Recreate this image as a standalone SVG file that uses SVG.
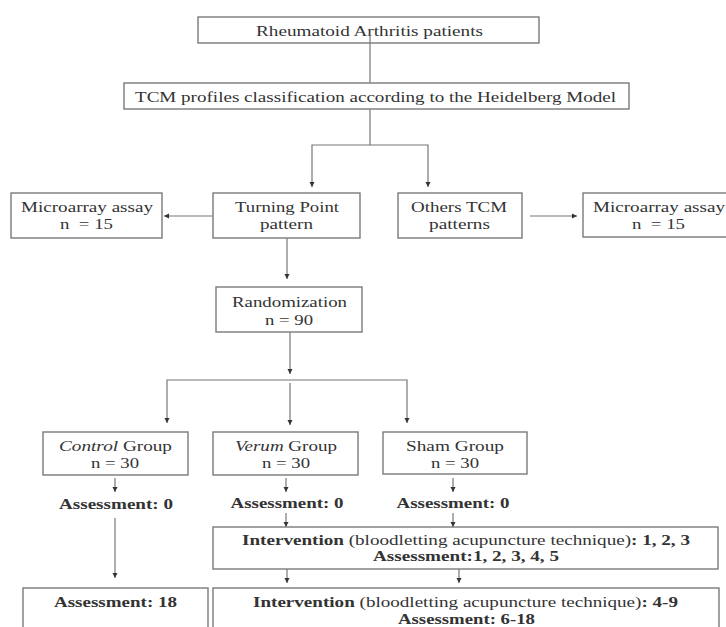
<svg xmlns="http://www.w3.org/2000/svg" width="726" height="627" viewBox="0 0 726 627">
  <style>
    .box { fill: #ffffff; stroke: #7a7a7a; stroke-width: 1.4; }
    .ln { fill: none; stroke: #777777; stroke-width: 1.2; }
    .arr { fill: none; stroke: #777777; stroke-width: 1.2; marker-end: url(#tip); }
    text { font-family: "Liberation Serif", "Times New Roman", serif; font-size: 15px; fill: #333333; }
    .c { text-anchor: middle; }
    .b { font-weight: bold; }
    .i { font-style: italic; }
  </style>
  <defs>
    <marker id="tip" markerUnits="userSpaceOnUse" markerWidth="6" markerHeight="6" refX="5" refY="3" orient="auto">
      <path d="M0,0.5 L5,3 L0,5.5 z" fill="#333333"/>
    </marker>
  </defs>

  <rect width="726" height="627" fill="#ffffff"/>

  <!-- connectors -->
  <g id="connectors">
    <line class="ln" x1="370" y1="35" x2="370" y2="83"/>
    <polyline class="ln" points="370,109 370,145"/>
    <polyline class="arr" points="370,145 312,145 312,187"/>
    <polyline class="arr" points="370,145 428,145 428,187"/>
    <line class="arr" x1="213" y1="216" x2="164" y2="216"/>
    <line class="arr" x1="530" y1="216" x2="577" y2="216"/>
    <line class="arr" x1="287" y1="238" x2="287" y2="279"/>
    <line class="arr" x1="290" y1="332" x2="290" y2="374"/>
    <polyline class="arr" points="290,380 167,380 167,423"/>
    <polyline class="arr" points="290,380 407,380 407,423"/>
    <line class="arr" x1="290" y1="383" x2="290" y2="425"/>
    <line class="arr" x1="115" y1="478" x2="115" y2="492"/>
    <line class="arr" x1="286" y1="478" x2="286" y2="492"/>
    <line class="arr" x1="453" y1="478" x2="453" y2="492"/>
    <line class="arr" x1="115" y1="518" x2="115" y2="578"/>
    <line class="arr" x1="286" y1="513" x2="286" y2="527"/>
    <line class="arr" x1="453" y1="513" x2="453" y2="527"/>
    <line class="arr" x1="287" y1="569" x2="287" y2="583"/>
    <line class="arr" x1="459" y1="569" x2="459" y2="583"/>
  </g>

  <g id="ra-patients">
    <rect class="box" x="198" y="17" width="341" height="26"/>
    <text class="c" x="369.5" y="36" textLength="227" lengthAdjust="spacingAndGlyphs">Rheumatoid Arthritis patients</text>
  </g>
  <line class="ln" x1="370" y1="35" x2="370" y2="43"/>

  <g id="tcm-classification">
    <rect class="box" x="124" y="83" width="505" height="26"/>
    <text class="c" x="375.5" y="102" textLength="481" lengthAdjust="spacingAndGlyphs">TCM profiles classification according to the Heidelberg Model</text>
  </g>

  <g id="microarray-left">
    <rect class="box" x="11" y="193" width="151" height="45"/>
    <text class="c" x="87" y="212" textLength="132" lengthAdjust="spacingAndGlyphs">Microarray assay</text>
    <text class="c" x="86.5" y="229" textLength="53" lengthAdjust="spacingAndGlyphs" xml:space="preserve">n  = 15</text>
  </g>

  <g id="turning-point">
    <rect class="box" x="213" y="193" width="147" height="45"/>
    <text class="c" x="287" y="212" textLength="104" lengthAdjust="spacingAndGlyphs">Turning Point</text>
    <text class="c" x="286.5" y="229" textLength="53" lengthAdjust="spacingAndGlyphs">pattern</text>
  </g>

  <g id="others-tcm">
    <rect class="box" x="398" y="193" width="124" height="45"/>
    <text class="c" x="459" y="212" textLength="96" lengthAdjust="spacingAndGlyphs">Others TCM</text>
    <text class="c" x="459.5" y="229" textLength="61" lengthAdjust="spacingAndGlyphs">patterns</text>
  </g>

  <g id="microarray-right">
    <rect class="box" x="583" y="193" width="151" height="44"/>
    <text class="c" x="659" y="212" textLength="132" lengthAdjust="spacingAndGlyphs">Microarray assay</text>
    <text class="c" x="658.5" y="229" textLength="53" lengthAdjust="spacingAndGlyphs" xml:space="preserve">n  = 15</text>
  </g>

  <g id="randomization">
    <rect class="box" x="216" y="287" width="146" height="45"/>
    <text class="c" x="289.5" y="307" textLength="115" lengthAdjust="spacingAndGlyphs">Randomization</text>
    <text class="c" x="289" y="325" textLength="48" lengthAdjust="spacingAndGlyphs">n = 90</text>
  </g>

  <g id="control-group">
    <rect class="box" x="43" y="432" width="145" height="43"/>
    <text class="c" x="115.5" y="451" textLength="113" lengthAdjust="spacingAndGlyphs"><tspan class="i">Control</tspan> Group</text>
    <text class="c" x="115" y="468" textLength="48" lengthAdjust="spacingAndGlyphs">n = 30</text>
  </g>

  <g id="verum-group">
    <rect class="box" x="213" y="432" width="145" height="43"/>
    <text class="c" x="286" y="451" textLength="102" lengthAdjust="spacingAndGlyphs"><tspan class="i">Verum</tspan> Group</text>
    <text class="c" x="286" y="468" textLength="48" lengthAdjust="spacingAndGlyphs">n = 30</text>
  </g>

  <g id="sham-group">
    <rect class="box" x="383" y="432" width="144" height="42"/>
    <text class="c" x="455" y="451" textLength="98" lengthAdjust="spacingAndGlyphs">Sham Group</text>
    <text class="c" x="455" y="468" textLength="48" lengthAdjust="spacingAndGlyphs">n = 30</text>
  </g>

  <g id="control-assessment-0">
    <text class="c b" x="116" y="509" textLength="114" lengthAdjust="spacingAndGlyphs">Assessment: 0</text>
  </g>
  <g id="verum-assessment-0">
    <text class="c b" x="287" y="508" textLength="113" lengthAdjust="spacingAndGlyphs">Assessment: 0</text>
  </g>
  <g id="sham-assessment-0">
    <text class="c b" x="453" y="508" textLength="113" lengthAdjust="spacingAndGlyphs">Assessment: 0</text>
  </g>

  <g id="intervention-1">
    <rect class="box" x="213" y="527" width="505" height="42"/>
    <text x="242" y="545" textLength="448" lengthAdjust="spacingAndGlyphs"><tspan class="b">Intervention</tspan> (bloodletting acupuncture technique)<tspan class="b">: 1, 2, 3</tspan></text>
    <text class="b" x="373" y="561" textLength="186" lengthAdjust="spacingAndGlyphs">Assessment:1, 2, 3, 4, 5</text>
  </g>

  <g id="control-assessment-18">
    <rect class="box" x="23" y="588" width="185" height="50"/>
    <text class="c b" x="115.5" y="607" textLength="123" lengthAdjust="spacingAndGlyphs">Assessment: 18</text>
  </g>

  <g id="intervention-2">
    <rect class="box" x="213" y="588" width="506" height="50"/>
    <text x="253" y="607" textLength="425" lengthAdjust="spacingAndGlyphs"><tspan class="b">Intervention</tspan> (bloodletting acupuncture technique)<tspan class="b">: 4-9</tspan></text>
    <text class="b" x="398" y="624" textLength="137" lengthAdjust="spacingAndGlyphs">Assessment: 6-18</text>
  </g>
</svg>
